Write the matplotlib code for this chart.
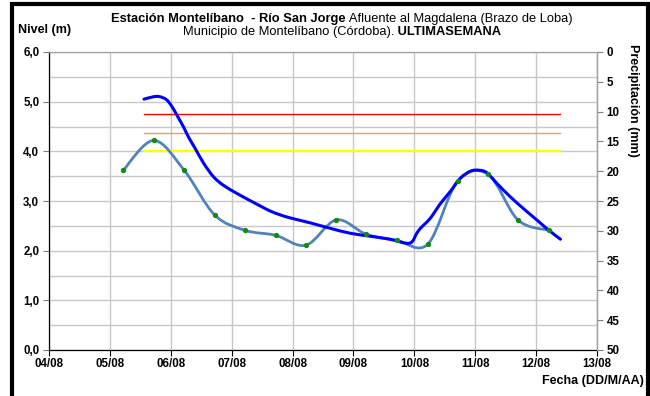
import matplotlib
matplotlib.use('Agg')
import matplotlib.pyplot as plt
import numpy as np
from matplotlib.path import Path
from matplotlib.patches import PathPatch, Rectangle
from matplotlib.offsetbox import TextArea, HPacker, AnchoredOffsetbox
from matplotlib.ticker import MultipleLocator, FixedLocator

plt.rcParams['font.family'] = ['Liberation Sans', 'DejaVu Sans']

# ---------------- data ----------------
day_ticks = [4, 5, 6, 7, 8, 9, 10, 11, 12, 13]
day_labels = ['04/08', '05/08', '06/08', '07/08', '08/08', '09/08',
              '10/08', '11/08', '12/08', '13/08']

# manual readings (day of August, fractional)
obs_days = [5.22, 5.72, 6.22, 6.72, 7.22, 7.72, 8.22, 8.72, 9.21, 9.71,
            10.22, 10.71, 11.21, 11.70, 12.21]
obs_level = [3.62, 4.22, 3.62, 2.72, 2.41, 2.31, 2.11, 2.62, 2.33, 2.21,
             2.13, 3.40, 3.54, 2.62, 2.41]

# automatic sensor series
sensor_days = [5.56, 5.72, 5.82, 5.93, 6.02, 6.10, 6.21, 6.29, 6.40, 6.54,
               6.70, 6.86, 7.09, 7.30, 7.47, 7.63, 7.80, 7.96, 8.29, 8.62,
               8.95, 9.28, 9.60, 9.92, 10.04, 10.10, 10.26, 10.43, 10.59,
               10.75, 10.92, 11.06, 11.19, 11.36, 11.58, 11.79, 12.01, 12.21,
               12.40]
sensor_level = [5.05, 5.10, 5.10, 5.04, 4.90, 4.73, 4.49, 4.29, 4.06, 3.76,
                3.49, 3.32, 3.15, 3.01, 2.90, 2.80, 2.72, 2.66, 2.56, 2.45,
                2.35, 2.29, 2.23, 2.15, 2.35, 2.45, 2.65, 2.95, 3.19,
                3.45, 3.60, 3.62, 3.57, 3.35, 3.08, 2.85, 2.62, 2.41, 2.23]

# alert thresholds
alert_days = [5.56, 12.40]
alert_red = 4.75
alert_orange = 4.37
alert_yellow = 4.01

# ---------------- figure ----------------
fig = plt.figure(figsize=(6.5, 3.96), dpi=100)
ax = fig.add_axes([49/650, 1-350/396, (597-49)/650, (350-52)/396])

ax.set_xlim(4, 13)
ax.set_ylim(0, 6)
ax.xaxis.set_major_locator(FixedLocator(day_ticks))
ax.set_xticklabels(day_labels)
ax.yaxis.set_major_locator(MultipleLocator(1))
ax.yaxis.set_minor_locator(MultipleLocator(0.5))
ax.yaxis.set_major_formatter(matplotlib.ticker.FuncFormatter(
    lambda v, p: f"{v:.1f}".replace('.', ',')))

grid_c = '#C8C8C8'
ax.grid(True, which='major', axis='x', color=grid_c, lw=1.0, zorder=0)
ax.grid(True, which='both', axis='y', color=grid_c, lw=1.0, zorder=0)
ax.set_axisbelow(True)

ax.spines['top'].set_color('#A0A0A0')
ax.spines['top'].set_linewidth(0.9)
ax.spines['right'].set_color('#A0A0A0')
ax.spines['right'].set_linewidth(0.9)
ax.spines['left'].set_color('black')
ax.spines['bottom'].set_color('black')
ax.spines['left'].set_linewidth(0.9)
ax.spines['bottom'].set_linewidth(0.9)

ax.tick_params(axis='x', direction='out', length=4, width=0.8, color='black',
               labelsize=8.3, pad=2)
ax.tick_params(axis='y', which='major', direction='out', length=4, width=0.8,
               color='#808080', labelsize=8.3, pad=3)
ax.tick_params(axis='y', which='minor', length=0)
for lab in ax.get_xticklabels() + ax.get_yticklabels():
    lab.set_fontweight('bold')

# thresholds
ax.plot(alert_days, [alert_red]*2, color='#FF0000', lw=1.0, zorder=3)
ax.plot(alert_days, [alert_orange]*2, color='#F5A04A', lw=1.0, zorder=3)
ax.plot(alert_days, [alert_yellow]*2, color='#FFFF00', lw=1.6, zorder=3)


def smooth_path(xs, ys):
    P = np.column_stack([xs, ys]).astype(float)
    n = len(P)
    verts = [P[0]]
    codes = [Path.MOVETO]
    for i in range(n - 1):
        p0 = P[i - 1] if i > 0 else P[i]
        p1 = P[i]
        p2 = P[i + 1]
        p3 = P[i + 2] if i + 2 < n else P[i + 1]
        c1 = p1 + (p2 - p0) / 6.0
        c2 = p2 - (p3 - p1) / 6.0
        verts += [c1, c2, p2]
        codes += [Path.CURVE4] * 3
    return Path(verts, codes)


patch = PathPatch(smooth_path(obs_days, obs_level), facecolor='none',
                  edgecolor='#5083BE', lw=2.0, zorder=4, capstyle='round')
ax.add_patch(patch)
ax.plot(obs_days, obs_level, linestyle='none', marker='o', ms=2.8,
        color='#138A13', mec='#138A13', zorder=6)

sensor_patch = PathPatch(smooth_path(sensor_days, sensor_level),
                         facecolor='none', edgecolor='#0000FF', lw=2.2,
                         zorder=5, capstyle='round', joinstyle='round')
ax.add_patch(sensor_patch)

# secondary axis (precipitation)
ax2 = ax.twinx()
ax2.set_ylim(50, 0)
ax2.yaxis.set_major_locator(MultipleLocator(5))
ax2.tick_params(axis='y', direction='out', length=4, width=0.8,
                color='#808080', labelsize=8.3, pad=3)
for lab in ax2.get_yticklabels():
    lab.set_fontweight('bold')
for s in ['top', 'left', 'bottom']:
    ax2.spines[s].set_visible(False)
ax2.spines['right'].set_color('#A0A0A0')
ax2.spines['right'].set_linewidth(0.9)

# labels
fig.text(18/650, 1-30/396, 'Nivel (m)', fontsize=9, fontweight='bold',
         ha='left', va='center')
fig.text(644/650, 1-381/396, 'Fecha (DD/M/AA)', fontsize=9,
         fontweight='bold', ha='right', va='center')
fig.text(633/650, 1-100/396, 'Precipitación (mm)', fontsize=9,
         fontweight='bold', rotation=-90, ha='center', va='center')


def title_line(parts, y):
    boxes = [TextArea(t, textprops=dict(fontsize=9.3, fontweight=w,
                                        color='black'))
             for t, w in parts]
    pack = HPacker(children=boxes, align='baseline', pad=0, sep=0)
    ab = AnchoredOffsetbox(loc='center', child=pack, pad=0, borderpad=0,
                           frameon=False, bbox_to_anchor=(342/650, y),
                           bbox_transform=fig.transFigure)
    fig.add_artist(ab)


title_line([('Estación Montelíbano  - Río San Jorge', 'bold'),
            (' Afluente al Magdalena (Brazo de Loba)', 'normal')], 1-19/396)
title_line([('Municipio de Montelíbano (Córdoba).', 'normal'),
            (' ULTIMASEMANA', 'bold')], 1-32/396)

# outer frame
fig.add_artist(Rectangle((12/650, -0.05), (648-12)/650, 1.05 - 4/396,
                         transform=fig.transFigure, fill=False,
                         edgecolor='black', lw=3.0, zorder=10))

fig.savefig('out.png', dpi=100)
